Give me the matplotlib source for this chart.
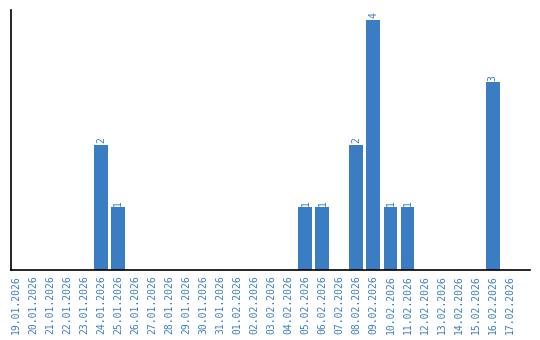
import matplotlib
matplotlib.use("Agg")
import matplotlib.pyplot as plt

dates = ["19.01.2026", "20.01.2026", "21.01.2026", "22.01.2026", "23.01.2026",
         "24.01.2026", "25.01.2026", "26.01.2026", "27.01.2026", "28.01.2026",
         "29.01.2026", "30.01.2026", "31.01.2026", "01.02.2026", "02.02.2026",
         "03.02.2026", "04.02.2026", "05.02.2026", "06.02.2026", "07.02.2026",
         "08.02.2026", "09.02.2026", "10.02.2026", "11.02.2026", "12.02.2026",
         "13.02.2026", "14.02.2026", "15.02.2026", "16.02.2026", "17.02.2026"]
counts = [0, 0, 0, 0, 0, 2, 1, 0, 0, 0, 0, 0, 0, 0, 0,
          0, 0, 1, 1, 0, 2, 4, 1, 1, 0, 0, 0, 0, 3, 0]

blue = "#3a7dc2"
plt.rcParams['font.family'] = ['DejaVu Sans Mono']

fig = plt.figure(figsize=(5.4, 3.4), dpi=100)
ax = fig.add_axes([0.0204, 0.206, 0.9611, 0.765])

x = list(range(len(dates)))
ax.bar(x, counts, width=0.82, color=blue)

for i, c in enumerate(counts):
    if c > 0:
        ax.text(i, c + 0.03, str(c), rotation=90, ha='center', va='bottom',
                color=blue, fontsize=7)

ax.set_xticks(x)
ax.set_xticklabels(dates, rotation=90, color=blue, fontsize=7)
ax.tick_params(axis='x', length=0, pad=4)
ax.set_yticks([])
ax.set_xlim(-0.3, 30.2)
ax.set_ylim(0, 4.16)
ax.spines['top'].set_visible(False)
ax.spines['right'].set_visible(False)
ax.spines['left'].set_linewidth(1.2)
ax.spines['bottom'].set_linewidth(1.2)

fig.savefig("out.png", dpi=100)
